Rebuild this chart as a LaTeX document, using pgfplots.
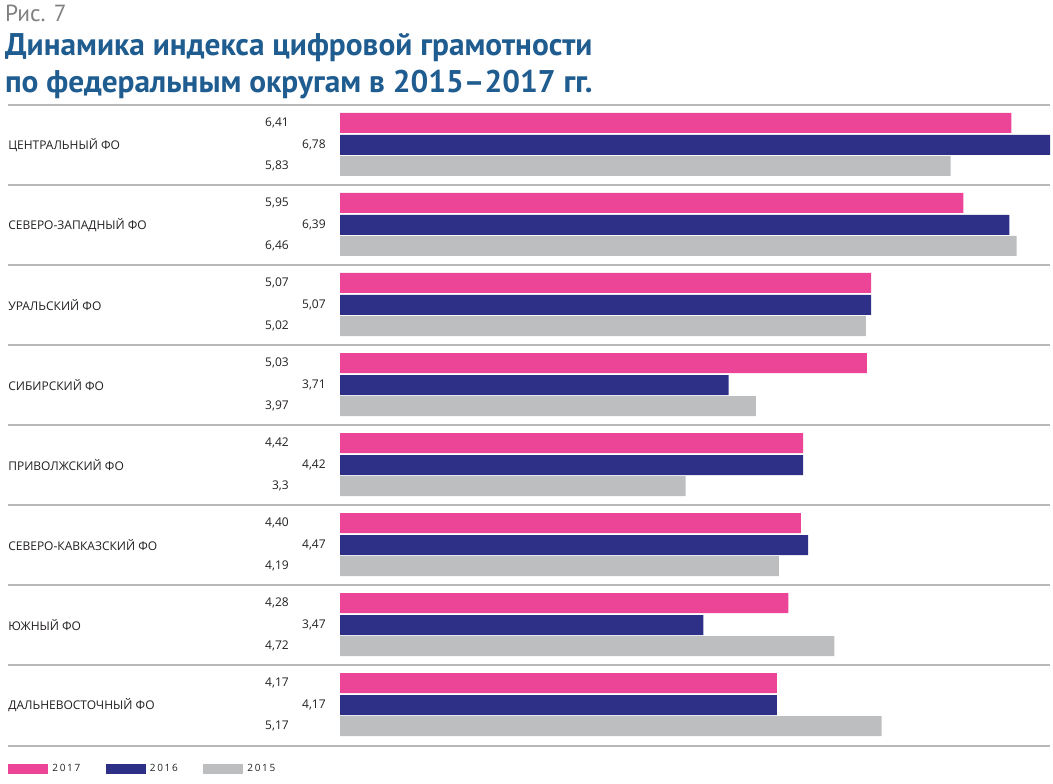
\documentclass[border=0pt]{standalone}
\usepackage{pgfplots}
\pgfplotsset{compat=1.18}
\usepackage{fontspec}
\setmainfont{Open Sans}
\newfontfamily\titlefont{PT Sans}
\definecolor{cpink}{HTML}{EC4597}
\definecolor{cnavy}{HTML}{2E3088}
\definecolor{cgrey}{HTML}{BDBEC0}
\definecolor{ctitle}{HTML}{1F5C8F}
\definecolor{csep}{HTML}{B8B8B8}
\definecolor{ctext}{HTML}{231F20}
\begin{document}
\begin{tikzpicture}
\begin{axis}[
  scale only axis, width=789.75pt, height=588pt,
  xmin=-3.2458, xmax=6.8067, ymin=0, ymax=784, y dir=reverse,
  axis lines=none, clip=false,
  xbar, bar shift=0pt, bar width=20,
  legend style={at={(axis cs:-3.169,769)}, anchor=west, draw=none, fill=none,
    legend columns=3, font=\fontsize{7.5}{9}\selectfont, text=ctext,
    /tikz/every even column/.append style={column sep=17pt},
    inner sep=0pt, outer sep=0pt},
  legend image code/.code={\fill[#1] (0pt,-4pt) rectangle (30pt,4pt);},
]
\addplot[fill=cpink, draw=none] coordinates {
 (6.41,123) (5.95,203) (5.07,283) (5.03,363) (4.42,443) (4.40,523) (4.28,603) (4.17,683)};
\addplot[fill=cnavy, draw=none] coordinates {
 (6.78,145) (6.39,225) (5.07,305) (3.71,385) (4.42,465) (4.47,545) (3.47,625) (4.17,705)};
\addplot[fill=cgrey, draw=none] coordinates {
 (5.83,166) (6.46,246) (5.02,326) (3.97,406) (3.30,486) (4.19,566) (4.72,646) (5.17,726)};
\legend{\,2\,0\,1\,7,\,2\,0\,1\,6,\,2\,0\,1\,5}
\coordinate (bbA) at (rel axis cs:0,0);
\coordinate (bbB) at (rel axis cs:1,1);
\pgfplotsinvokeforeach{105,185,265,345,425,505,585,665,746}{
  \draw[csep, line width=1.1pt] (axis cs:-3.169,#1) -- (axis cs:6.778,#1);
}
% titles
\node[anchor=base west, inner sep=0pt, text=gray, font=\titlefont\fontsize{17.5}{20}\selectfont] at (axis cs:-3.2,22) {Рис. 7};
\node[anchor=base west, inner sep=0pt, text=ctitle, font=\titlefont\bfseries\fontsize{23.5}{28}\selectfont] at (axis cs:-3.2,56) {Динамика индекса цифровой грамотности};
\node[anchor=base west, inner sep=0pt, text=ctitle, font=\titlefont\bfseries\fontsize{23.5}{28}\selectfont] at (axis cs:-3.2,93) {по федеральным округам в 2015–2017 гг.};
% categories
\begin{scope}[every node/.style={anchor=west, inner sep=0pt, text=ctext, font=\fontsize{9}{10}\selectfont}]
\node at (axis cs:-3.169,145) {ЦЕНТРАЛЬНЫЙ ФО};
\node at (axis cs:-3.169,225) {СЕВЕРО-ЗАПАДНЫЙ ФО};
\node at (axis cs:-3.169,305) {УРАЛЬСКИЙ ФО};
\node at (axis cs:-3.169,385) {СИБИРСКИЙ ФО};
\node at (axis cs:-3.169,465) {ПРИВОЛЖСКИЙ ФО};
\node at (axis cs:-3.169,545) {СЕВЕРО-КАВКАЗСКИЙ ФО};
\node at (axis cs:-3.169,625) {ЮЖНЫЙ ФО};
\node at (axis cs:-3.169,705) {ДАЛЬНЕВОСТОЧНЫЙ ФО};
\end{scope}
\begin{scope}[every node/.style={anchor=east, inner sep=0pt, text=ctext, font=\fontsize{9}{10}\selectfont}]
\node at (axis cs:-0.487,123) {6,41}; \node at (axis cs:-0.134,145) {6,78}; \node at (axis cs:-0.487,166) {5,83};
\node at (axis cs:-0.487,203) {5,95}; \node at (axis cs:-0.134,225) {6,39}; \node at (axis cs:-0.487,246) {6,46};
\node at (axis cs:-0.487,283) {5,07}; \node at (axis cs:-0.134,305) {5,07}; \node at (axis cs:-0.487,326) {5,02};
\node at (axis cs:-0.487,363) {5,03}; \node at (axis cs:-0.134,385) {3,71}; \node at (axis cs:-0.487,406) {3,97};
\node at (axis cs:-0.487,443) {4,42}; \node at (axis cs:-0.134,465) {4,42}; \node at (axis cs:-0.487,486) {3,3};
\node at (axis cs:-0.487,523) {4,40}; \node at (axis cs:-0.134,545) {4,47}; \node at (axis cs:-0.487,566) {4,19};
\node at (axis cs:-0.487,603) {4,28}; \node at (axis cs:-0.134,625) {3,47}; \node at (axis cs:-0.487,646) {4,72};
\node at (axis cs:-0.487,683) {4,17}; \node at (axis cs:-0.134,705) {4,17}; \node at (axis cs:-0.487,726) {5,17};
\end{scope}
\end{axis}
\pgfresetboundingbox
\path (bbA) rectangle (bbB);
\end{tikzpicture}
\end{document}
